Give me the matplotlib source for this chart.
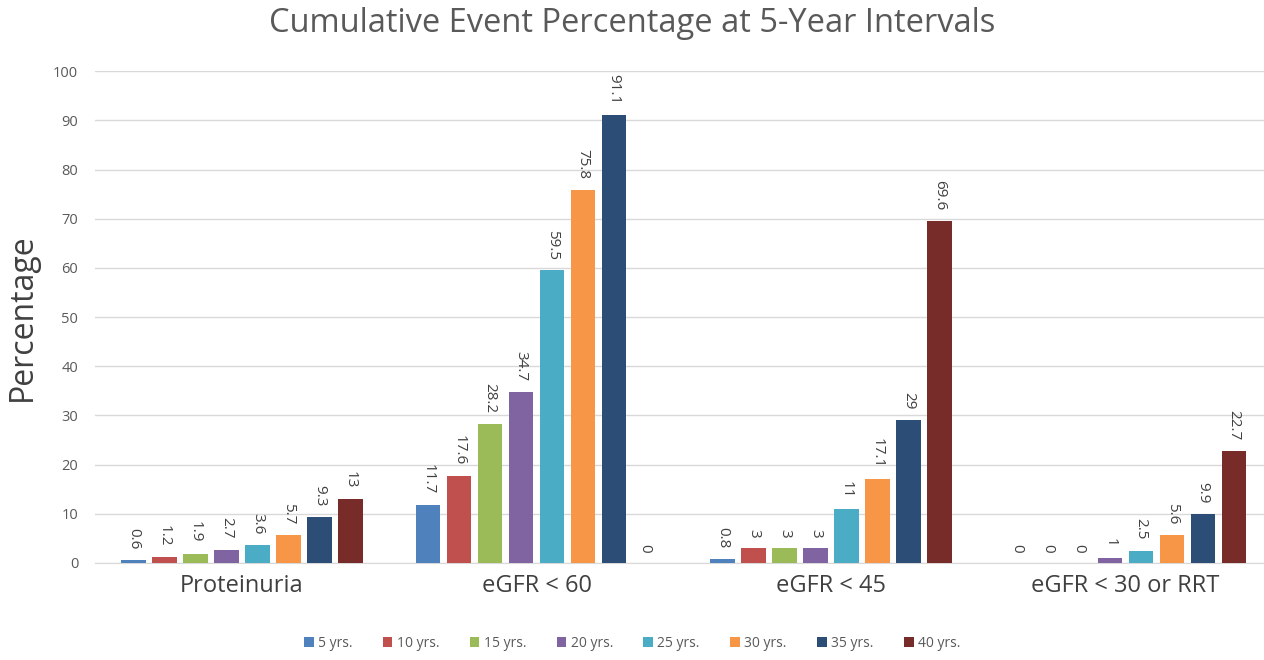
import numpy as np
import matplotlib
matplotlib.use("Agg")
from matplotlib import pyplot as plt

plt.rcParams['font.family'] = ['Open Sans', 'DejaVu Sans']

categories = ["Proteinuria", "eGFR < 60", "eGFR < 45", "eGFR < 30 or RRT"]
series = ["5 yrs.", "10 yrs.", "15 yrs.", "20 yrs.", "25 yrs.", "30 yrs.", "35 yrs.", "40 yrs."]
values = [
    [0.6, 11.7, 0.8, 0],
    [1.2, 17.6, 3, 0],
    [1.9, 28.2, 3, 0],
    [2.7, 34.7, 3, 1],
    [3.6, 59.5, 11, 2.5],
    [5.7, 75.8, 17.1, 5.6],
    [9.3, 91.1, 29, 9.9],
    [13, 0, 69.6, 22.7],
]
colors = ["#4F81BD", "#C0504D", "#9BBB59", "#8064A2", "#4BACC6", "#F79646", "#2C4D75", "#772C2A"]

fig = plt.figure(figsize=(12.64, 6.6), dpi=100)
# plot area runs off the right edge of the picture, as in the reference
ax = fig.add_axes([0.075, 0.147, 0.925, 0.745])

x = np.arange(len(categories))
slot = 1 / 9.5
width = slot * 0.8
for i, (name, vals, c) in enumerate(zip(series, values, colors)):
    pos = x + (i - 3.5) * slot
    ax.bar(pos, vals, width, color=c, label=name, zorder=3)
    for p, v in zip(pos, vals):
        ax.text(p, v + 2.2, f"{v:g}", rotation=270, ha="center", va="bottom",
                fontsize=11, color="#404040")

ax.set_xlim(-0.5, 3.47)
ax.set_ylim(0, 100)
ax.set_yticks(range(0, 101, 10))
ax.set_xticks(x)
ax.set_xticklabels(categories, fontsize=17, color="#404040")
ax.tick_params(axis="y", length=0, labelsize=10.5, labelcolor="#595959", pad=12)
ax.tick_params(axis="x", length=0, pad=8)
ax.grid(axis="y", color="#d9d9d9", linewidth=1, zorder=0)
for s in ["top", "right", "left"]:
    ax.spines[s].set_visible(False)
ax.spines["bottom"].set_color("#d9d9d9")

ax.set_ylabel("Percentage", fontsize=23, color="#404040", labelpad=10)
fig.suptitle("Cumulative Event Percentage at 5-Year Intervals", fontsize=23.5,
             color="#595959", y=0.99)

fig.legend(loc="lower center", bbox_to_anchor=(0.5, -0.005), ncol=8, frameon=False,
           fontsize=10, handlelength=0.7, handleheight=0.7, handletextpad=0.3,
           columnspacing=2.2, labelcolor="#595959")

fig.savefig("out.png", dpi=100)
